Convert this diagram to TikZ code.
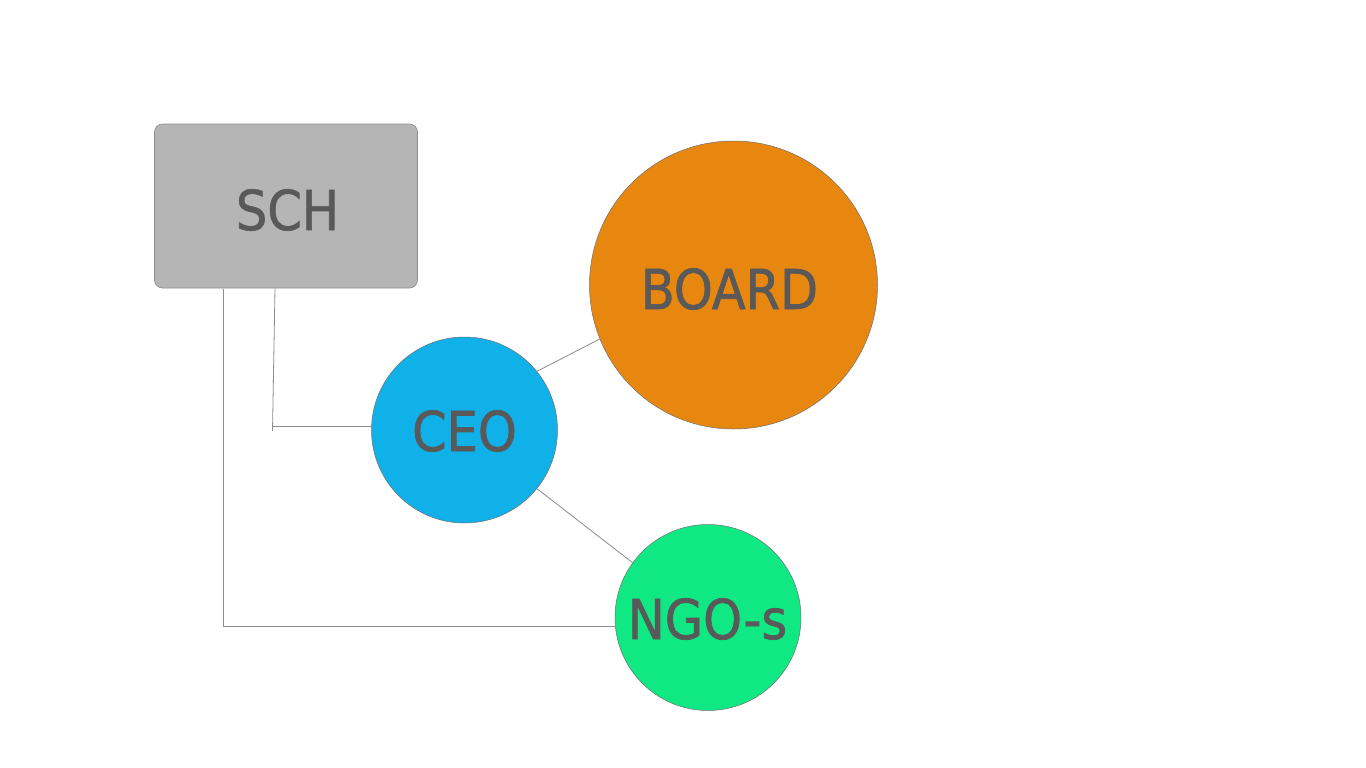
\documentclass[tikz,border=0pt]{standalone}
\usepackage{fontspec}
\setmainfont{DejaVu Sans Condensed}
\newfontfamily\lblfont{DejaVu Sans Condensed}[FakeBold=1.2]
\definecolor{txt}{HTML}{595959}
\definecolor{lin}{HTML}{8C8C8C}
\definecolor{schfill}{HTML}{B5B5B5}
\definecolor{boardfill}{HTML}{E8870F}
\definecolor{ceofill}{HTML}{10B0E8}
\definecolor{ngofill}{HTML}{10E884}
\begin{document}
\begin{tikzpicture}[x=1pt,y=-1pt,
  lbl/.style={text=txt,font=\lblfont\fontsize{55}{60}\selectfont},
  bubble/.style={circle,draw=lin!80!black,line width=0.5pt,inner sep=0pt,lbl},
  conn/.style={draw=lin,line width=0.8pt}]
\fill[white] (0,0) rectangle (1366,768);
\useasboundingbox (0,0) rectangle (1366,768);
\node[rectangle,rounded corners=8pt,fill=schfill,draw=lin,line width=0.6pt,
      minimum width=263pt,minimum height=164pt,inner sep=0pt,lbl] (sch) at (286,206) {};
\node[lbl] (schtext) at (287.5,210) {SCH};
\node[bubble,fill=boardfill,minimum size=288pt] (board) at (733.5,285) {};
\node[lbl] (boardtext) at (729.5,289) {BOARD};
\node[bubble,fill=ceofill,minimum size=186pt] (ceo) at (464.5,430) {};
\node[lbl] (ceotext) at (464.5,431) {CEO};
\node[bubble,fill=ngofill,minimum size=186pt] (ngo) at (708,617.5) {};
\node[lbl] (ngotext) at (707.5,619) {NGO-s};
\coordinate (s1) at (275,288.5);
\coordinate (s1b) at (272.5,431);
\coordinate (s1c) at (272.5,426);
\coordinate (s2) at (223,288.5);
\coordinate (s2b) at (223,626);
\draw[conn] (s1) -- (s1b);
\draw[conn] (s1c) -- (s1c -| ceo.west);
\draw[conn] (s2) -- (s2b) -- (s2b -| ngo.west);
\draw[conn] (ceo.39) -- (board.202.7);
\draw[conn] (ceo.-39.4) -- (ngo.144.7);
\end{tikzpicture}
\end{document}
